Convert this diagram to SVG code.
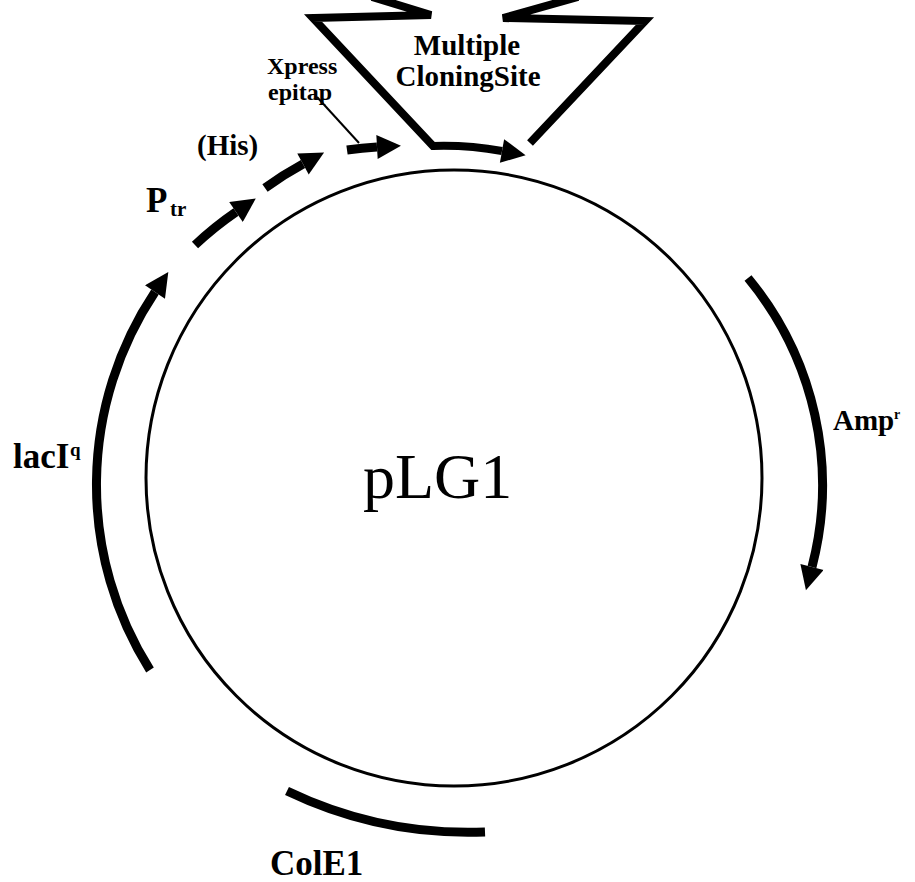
<svg xmlns="http://www.w3.org/2000/svg" width="915" height="882" viewBox="0 0 915 882">
<style>
.bg{fill:#fff}
.thick{fill:none;stroke:#000;stroke-width:9;stroke-linecap:butt;stroke-linejoin:miter}
.funnel{fill:none;stroke:#000;stroke-width:8;stroke-linejoin:miter;stroke-linecap:butt}
.lbl{font-family:"Liberation Serif","Times New Roman",serif;font-weight:bold;fill:#000}
.title{font-family:"Liberation Serif","Times New Roman",serif;fill:#000}
</style>
<defs>
<marker id="ah" viewBox="0 0 10 10" refX="0" refY="5" markerWidth="26" markerHeight="24" markerUnits="userSpaceOnUse" orient="auto">
<path d="M0,0 L10,5 L0,10 z" fill="#000"/>
</marker>
</defs>
<rect class="bg" x="0" y="0" width="915" height="882"/>
<g id="plasmid">
<circle cx="454" cy="478" r="308" fill="none" stroke="#000" stroke-width="3"/>
<text class="title" x="363" y="498" font-size="64">pLG1</text>
</g>
<g id="mcs">
<path class="funnel" d="M372,-3 L431,15 L313,18 L433,146 A330,330 0 0,1 502,151" marker-end="url(#ah)"/>
<path class="funnel" d="M530,143 L645,21 L503,18 L578,-3"/>
<text class="lbl" x="467" y="55" font-size="29" text-anchor="middle">Multiple</text>
<text class="lbl" x="468" y="86" font-size="29" text-anchor="middle">CloningSite</text>
</g>
<g id="xpress">
<path class="thick" d="M347,150 A340,340 0 0,1 377,147" marker-end="url(#ah)"/>
<text class="lbl" x="267" y="74" font-size="24">Xpress</text>
<text class="lbl" x="268" y="100" font-size="24">epitap</text>
</g>
<g id="his">
<path class="thick" d="M265,188 A345,345 0 0,1 303,164" marker-end="url(#ah)"/>
<text class="lbl" x="197" y="155" font-size="29">(His)</text>
</g>
<g id="ptr">
<path class="thick" d="M195,245 A345,345 0 0,1 236,212" marker-end="url(#ah)"/>
<text class="lbl" x="146" y="212" font-size="35">P</text>
<text class="lbl" x="170" y="216" font-size="21">tr</text>
</g>
<g id="laci">
<path class="thick" d="M150,670 A347,347 0 0,1 155,292" marker-end="url(#ah)"/>
<text class="lbl" x="13" y="468" font-size="35">lacI</text>
<text class="lbl" x="70" y="456" font-size="19">q</text>
</g>
<g id="ampr">
<path class="thick" d="M748,278 A325,325 0 0,1 812,567" marker-end="url(#ah)"/>
<text class="lbl" x="833" y="430" font-size="29">Amp</text>
<text class="lbl" x="894" y="419" font-size="14">r</text>
</g>
<g id="cole1">
<path class="thick" d="M287,791 A420,420 0 0,0 485,832"/>
<text class="lbl" x="270" y="875" font-size="35">ColE1</text>
</g>
<g id="connectors">
<line x1="317" y1="97" x2="359" y2="143" stroke="#000" stroke-width="2"/>
</g>
</svg>
